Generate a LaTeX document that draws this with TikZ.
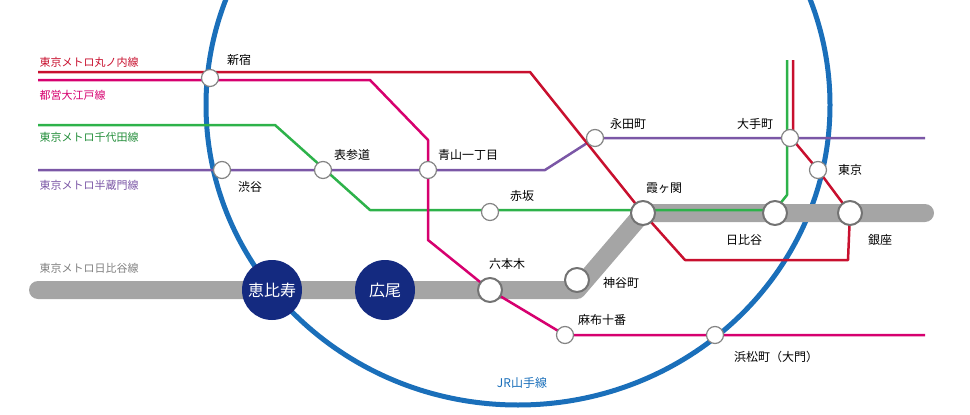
\documentclass[tikz,border=0pt]{standalone}
\usepackage{fontspec}
\setmainfont{Noto Sans CJK JP}
\usetikzlibrary{positioning}
\definecolor{maru}{HTML}{C8102E}
\definecolor{oedo}{HTML}{D6006F}
\definecolor{chiyo}{HTML}{2DB24A}
\definecolor{hanzo}{HTML}{7B57A6}
\definecolor{hibi}{HTML}{A5A5A5}
\definecolor{jr}{HTML}{1A6FBA}
\definecolor{navy}{HTML}{142A80}
\begin{document}
\begin{tikzpicture}[x=1pt,y=-1pt,line join=round,
    small st/.style={circle,draw=hibi!80!black,fill=white,line width=1.2pt,minimum size=17pt,inner sep=0pt},
    big st/.style={circle,draw=hibi!70!black,fill=white,line width=2pt,minimum size=24pt,inner sep=0pt},
    dark st/.style={circle,fill=navy,minimum size=60pt,inner sep=0pt,text=white,font=\fontsize{16}{16}\selectfont},
    lbl/.style={font=\fontsize{12}{12}\selectfont},
    linelbl/.style={font=\fontsize{11}{11}\selectfont,anchor=west}]
\useasboundingbox (0,0) rectangle (970,415);
\begin{scope}
\clip (0,0) rectangle (970,415);
\draw[jr,line width=5pt] (518,105) ellipse [x radius=312,y radius=300];
\end{scope}
% line paths
\draw[hibi,line width=18pt,line cap=round] (38,290) -- (577,290) -- (643,213) -- (925,213);
\draw[chiyo,line width=2.5pt] (38,125) -- (275,125) -- (370,210) -- (775,210) -- (787,195) -- (787,60);
\draw[hanzo,line width=2.5pt] (38,170) -- (545,170) -- (595,138) -- (925,138);
\draw[oedo,line width=2.5pt] (38,80) -- (370,80) -- (428,140) -- (428,240) -- (490,290) -- (565,335) -- (925,335);
\draw[maru,line width=2.5pt] (38,72) -- (530,72) -- (643,213) -- (685,260) -- (848,260) -- (850,213) -- (818,170) -- (793,140) -- (793,60);
% stations
\node[small st] (shinjuku) at (210,78) {};
\node[small st] (shibuya) at (222,170) {};
\node[small st] (omote) at (323,170) {};
\node[small st] (aoyama) at (428,170) {};
\node[small st] (akasaka) at (490,212) {};
\node[small st] (nagata) at (595,138) {};
\node[small st] (otemachi) at (790,138) {};
\node[small st] (tokyo) at (818,170) {};
\node[small st] (azabu) at (565,335) {};
\node[small st] (hama) at (715,335) {};
\node[big st] (kasumi) at (643,213) {};
\node[big st] (hibiya) at (775,213) {};
\node[big st] (ginza) at (850,213) {};
\node[big st] (kamiya) at (577,280) {};
\node[big st] (roppongi) at (490,290) {};
\node[dark st] (ebisu) at (272,290) {恵比寿};
\node[dark st] (hiroo) at (385,290) {広尾};
% labels
\node[lbl] at (239,60) {新宿};
\node[lbl] at (250,187) {渋谷};
\node[lbl] at (352,155) {表参道};
\node[lbl] at (468,155) {青山一丁目};
\node[lbl] at (522,196) {赤坂};
\node[lbl] at (628,124) {永田町};
\node[lbl] at (755,124) {大手町};
\node[lbl] at (850,170) {東京};
\node[lbl] at (664,188) {霞ヶ関};
\node[lbl] at (744,240) {日比谷};
\node[lbl] at (880,240) {銀座};
\node[lbl] at (621,283) {神谷町};
\node[lbl] at (507,264) {六本木};
\node[lbl] at (602,320) {麻布十番};
\node[lbl] at (776,357) {浜松町（大門）};
\node[lbl,jr] at (522,383) {JR山手線};
\node[linelbl,maru] at (36,62) {東京メトロ丸ノ内線};
\node[linelbl,oedo] at (36,95) {都営大江戸線};
\node[linelbl,chiyo!80!black] at (36,137) {東京メトロ千代田線};
\node[linelbl,hanzo] at (36,185) {東京メトロ半蔵門線};
\node[linelbl,gray] at (36,268) {東京メトロ日比谷線};
\end{tikzpicture}
\end{document}
